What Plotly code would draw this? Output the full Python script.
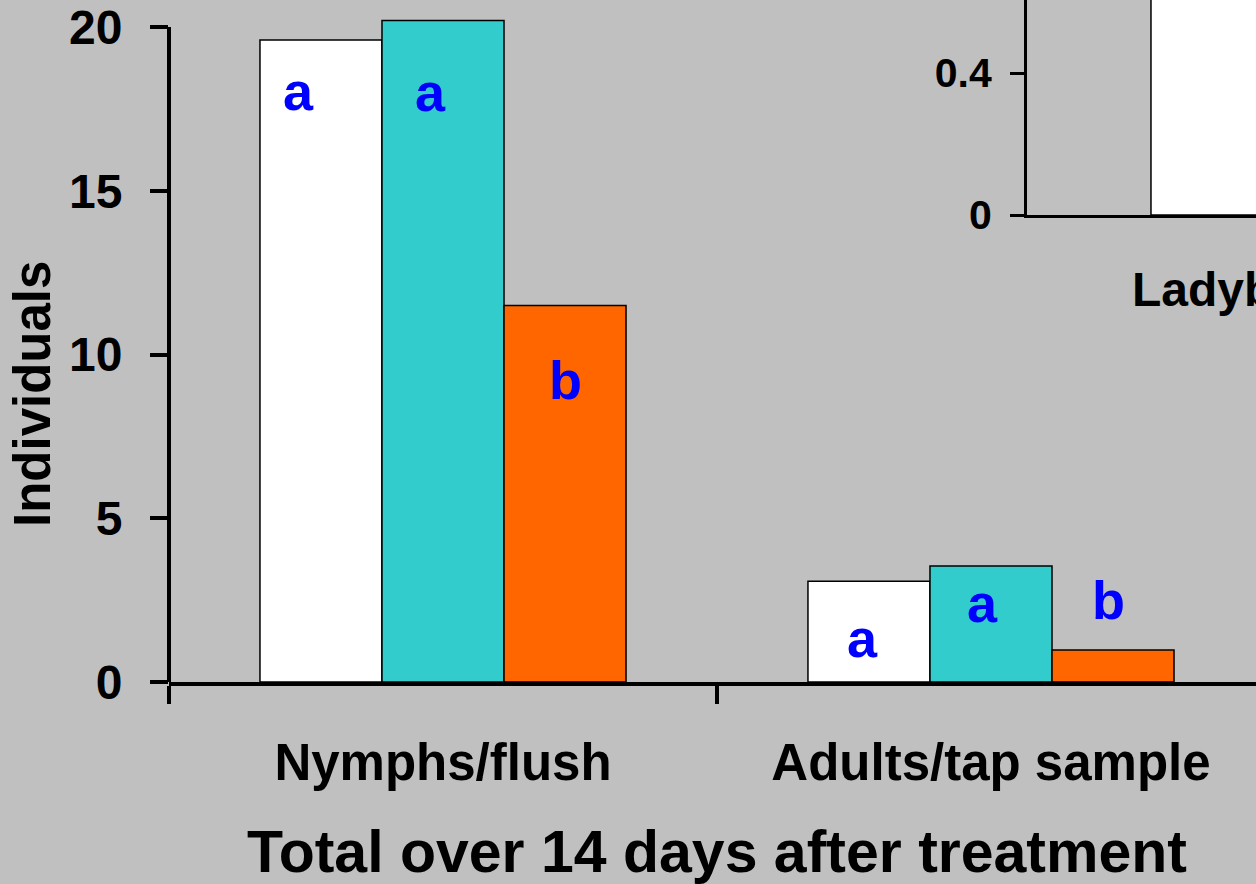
import plotly.graph_objects as go

# ---- data ----
categories = ["Nymphs/flush", "Adults/tap sample"]
series_names = ["Untreated", "Treatment 1", "Treatment 2"]
white_vals = [19.6, 3.08]
teal_vals = [20.2, 3.54]
orange_vals = [11.5, 0.98]

letters = ["a", "a", "b", "a", "a", "b"]
letter_x = [-0.263, -0.022, 0.223, 0.766, 0.984, 1.215]
letter_y = [18.04, 18.01, 9.22, 1.34, 2.41, 2.50]

y_ticks = [0, 5, 10, 15, 20]

inset_categories = ["Ladybirds"]
inset_vals = [0.7]
inset_ticks = [0, 0.4]

# ---- style ----
BG = "#C0C0C0"
FONT = "Liberation Sans, Arial, sans-serif"
colors = ["#FFFFFF", "#33CCCC", "#FF6600"]

fig = go.Figure()
for name, vals, col in zip(series_names, [white_vals, teal_vals, orange_vals], colors):
    fig.add_trace(go.Bar(
        x=categories, y=vals, name=name, marker_color=col,
        marker_line=dict(color="black", width=1.5), showlegend=False,
        xaxis="x", yaxis="y",
    ))

fig.add_trace(go.Bar(
    x=inset_categories, y=inset_vals, marker_color="#FFFFFF",
    marker_line=dict(color="black", width=1.5), width=0.6,
    showlegend=False, xaxis="x2", yaxis="y2",
))

W, H = 1256, 884
ml, mr, mt, mb = 169, 0, 0, 202
ph = H - mt - mb
pw = W - ml - mr

fig.update_layout(
    width=W, height=H,
    margin=dict(l=ml, r=mr, t=mt, b=mb, pad=0),
    paper_bgcolor=BG, plot_bgcolor="rgba(0,0,0,0)",
    barmode="group", bargap=0.332, bargroupgap=0,
    font=dict(family=FONT, color="black"),
    xaxis=dict(
        type="category", range=[-0.5, 1.4836], domain=[0, 1],
        showline=True, linecolor="black", linewidth=4,
        ticks="outside", tickson="boundaries", ticklen=18, tickwidth=4, tickcolor="black",
        tickfont=dict(family=FONT, size=51, weight="bold", color="black"),
        ticklabelstandoff=33,
        showgrid=False, zeroline=False,
    ),
    yaxis=dict(
        range=[0, 682 / 32.75], domain=[0, 1],
        tickvals=y_ticks, showline=False,
        ticks="outside", ticklen=18, tickwidth=4, tickcolor="black",
        tickfont=dict(family=FONT, size=48, weight="bold", color="black"),
        ticklabelstandoff=18,
        showgrid=False, zeroline=False,
    ),
    xaxis2=dict(
        type="category", range=[-0.5, -0.1306],
        domain=[(1027 - ml) / pw, 1], anchor="y2",
        showline=True, linecolor="black", linewidth=3,
        ticks="outside", tickson="boundaries", ticklen=16, tickwidth=3, tickcolor="black",
        showticklabels=False, showgrid=False, zeroline=False,
    ),
    yaxis2=dict(
        range=[0, 215 / 355.0], domain=[(682 - 215) / ph, 1], anchor="x2",
        tickvals=inset_ticks, ticktext=["0", "0.4"],
        showline=True, linecolor="black", linewidth=3,
        ticks="outside", ticklen=14, tickwidth=3, tickcolor="black",
        tickfont=dict(family=FONT, size=41, weight="bold", color="black"),
        ticklabelstandoff=10,
        showgrid=False, zeroline=False,
    ),
)

# main y axis line (0 to 20)
fig.add_shape(type="line", xref="paper", yref="y", x0=0, x1=0, y0=0, y1=y_ticks[-1],
              line=dict(color="black", width=4))

# significance letters
for t, lx, ly in zip(letters, letter_x, letter_y):
    fig.add_annotation(x=lx, y=ly, xref="x", yref="y", text=t, showarrow=False,
                       xanchor="center", yanchor="middle",
                       font=dict(family=FONT, size=54, weight="bold", color="#0000FF"))

# axis titles
fig.add_annotation(x=(33 - ml) / pw, y=(682 - 394) / ph, xref="paper", yref="paper",
                   text="Individuals", textangle=-90, showarrow=False,
                   xanchor="center", yanchor="middle",
                   font=dict(family=FONT, size=51, weight="bold", color="black"))
fig.add_annotation(x=0.5, y=(682 - 852) / ph, xref="x", yref="paper",
                   text="Total over 14 days after treatment", showarrow=False,
                   xanchor="center", yanchor="middle",
                   font=dict(family=FONT, size=59, weight="bold", color="black"))
# inset category label
fig.add_annotation(x=(1130 - ml) / pw, y=(682 - 290) / ph, xref="paper", yref="paper",
                   text=inset_categories[0], showarrow=False,
                   xanchor="left", yanchor="middle",
                   font=dict(family=FONT, size=48, weight="bold", color="black"))

fig.write_html("out.html", config={"displayModeBar": False},
               post_script="document.body.style.margin='0';document.body.style.background='#C0C0C0';")
